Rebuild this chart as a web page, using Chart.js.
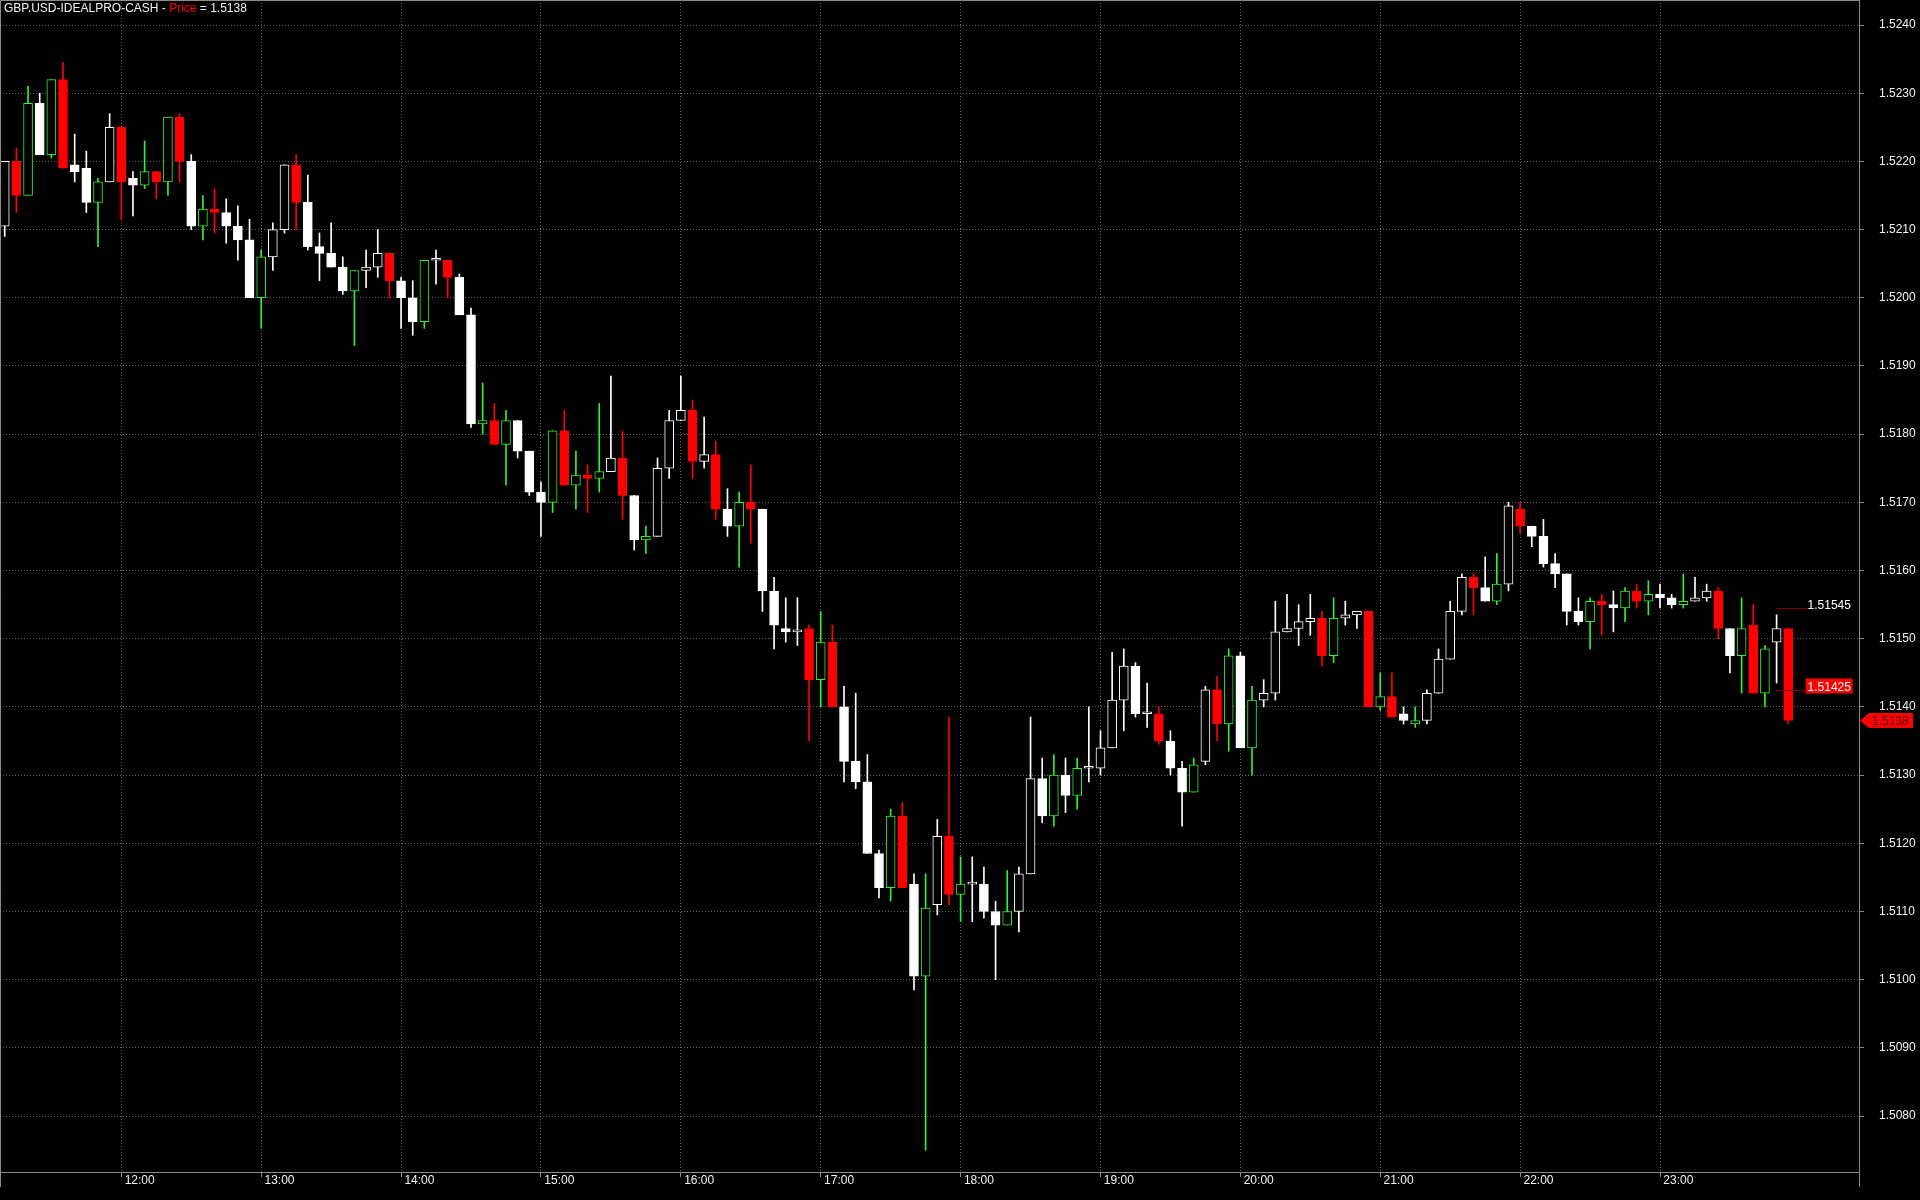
<!DOCTYPE html>
<html lang="en">
<head>
<meta charset="UTF-8">
<title>GBP.USD-IDEALPRO-CASH</title>
<script src="https://cdn.jsdelivr.net/npm/chart.js"></script>
<style>
  html, body { margin: 0; padding: 0; background: #000; overflow: hidden; }
  canvas { display: block; }
</style>
</head>
<body>
<canvas id="priceChart" width="1920" height="1200"></canvas>
<script>
// 5-minute bars, first bar 11:10, last bar 23:55
const symbol = 'GBP.USD-IDEALPRO-CASH';
const hourLabels = ['12:00', '13:00', '14:00', '15:00', '16:00', '17:00', '18:00', '19:00', '20:00', '21:00', '22:00', '23:00'];
const firstHourBar = 10;   // index of the 12:00 bar
const barsPerHour = 12;
const priceTicks = [1.5080, 1.5090, 1.5100, 1.5110, 1.5120, 1.5130, 1.5140, 1.5150, 1.5160,
                    1.5170, 1.5180, 1.5190, 1.5200, 1.5210, 1.5220, 1.5230, 1.5240];

const opens = [
  1.52105, 1.5220, 1.5215, 1.52285, 1.5221, 1.5232, 1.52195, 1.5219, 1.5214, 1.5217,
  1.5225, 1.52175, 1.52165, 1.52185, 1.5217, 1.52265, 1.5220, 1.52105, 1.5213, 1.52125,
  1.52105, 1.52085, 1.5200, 1.5206, 1.5210, 1.52195, 1.5214, 1.52075, 1.52065, 1.52045,
  1.5201, 1.5204, 1.52045, 1.52065, 1.52025, 1.5200, 1.51965, 1.52055, 1.52055, 1.5203,
  1.51975, 1.51815, 1.5182, 1.51785, 1.5182, 1.51775, 1.51715, 1.5170, 1.51805, 1.51725,
  1.5174, 1.51735, 1.51745, 1.51765, 1.5171, 1.51645, 1.5165, 1.5175, 1.5182, 1.51835,
  1.5176, 1.5177, 1.5169, 1.51665, 1.5170, 1.5169, 1.5157, 1.51515, 1.5151, 1.51515,
  1.5144, 1.51495, 1.5140, 1.5132, 1.5129, 1.51185, 1.51135, 1.5124, 1.5114, 1.51005,
  1.5111, 1.5121, 1.51125, 1.5114, 1.5114, 1.5110, 1.5108, 1.5110, 1.51155, 1.51295,
  1.5124, 1.5130, 1.5127, 1.5131, 1.5131, 1.5134, 1.5141, 1.5146, 1.5139, 1.5139,
  1.5135, 1.5131, 1.51275, 1.5132, 1.51425, 1.51375, 1.51475, 1.5134, 1.5141, 1.5142,
  1.5151, 1.51515, 1.51525, 1.5153, 1.51475, 1.5153, 1.51535, 1.5154, 1.5140, 1.51415,
  1.5139, 1.51375, 1.5138, 1.5142, 1.5147, 1.5154, 1.5159, 1.51575, 1.51555, 1.5158,
  1.5169, 1.51665, 1.5165, 1.5161, 1.51595, 1.5154, 1.51525, 1.51555, 1.5155, 1.51545,
  1.5157, 1.51555, 1.51565, 1.5156, 1.5155, 1.51555, 1.5156, 1.5157, 1.51515, 1.51475,
  1.5152, 1.5142, 1.51495, 1.51515
];
const highs = [
  1.5220, 1.5222, 1.5231, 1.5230, 1.5232, 1.52345, 1.5224, 1.52215, 1.52175, 1.5227,
  1.5225, 1.52185, 1.5223, 1.52185, 1.52265, 1.5227, 1.5221, 1.5215, 1.5216, 1.52145,
  1.52135, 1.52115, 1.5207, 1.5211, 1.52195, 1.5221, 1.5218, 1.52095, 1.5211, 1.5206,
  1.5204, 1.5207, 1.5210, 1.52065, 1.5203, 1.52025, 1.52055, 1.5207, 1.52055, 1.52035,
  1.51985, 1.51875, 1.51845, 1.51835, 1.5182, 1.51775, 1.5173, 1.51805, 1.51835, 1.51775,
  1.51755, 1.51845, 1.51885, 1.51805, 1.5171, 1.51665, 1.51765, 1.51835, 1.51885, 1.5185,
  1.51825, 1.5179, 1.5172, 1.51715, 1.51755, 1.5169, 1.5159, 1.5156, 1.5156, 1.5152,
  1.5154, 1.5152, 1.5143, 1.5142, 1.5133, 1.5119, 1.5125, 1.5126, 1.51155, 1.51155,
  1.51235, 1.51385, 1.5118, 1.5118, 1.51165, 1.51115, 1.5116, 1.51165, 1.51385, 1.51325,
  1.5133, 1.51325, 1.51325, 1.5140, 1.51365, 1.5148, 1.51485, 1.51465, 1.51435, 1.5140,
  1.51365, 1.5132, 1.51325, 1.5143, 1.51445, 1.51485, 1.5148, 1.5143, 1.5144, 1.51555,
  1.51565, 1.5155, 1.51565, 1.5154, 1.5156, 1.51555, 1.5154, 1.5154, 1.5145, 1.5145,
  1.5140, 1.5140, 1.51425, 1.51485, 1.51555, 1.51595, 1.51595, 1.5162, 1.51625, 1.5170,
  1.5170, 1.51665, 1.51675, 1.51625, 1.51595, 1.5156, 1.5156, 1.51565, 1.5157, 1.51575,
  1.5158, 1.51585, 1.5158, 1.51565, 1.51595, 1.5159, 1.5158, 1.51575, 1.51515, 1.5156,
  1.5155, 1.5149, 1.51535, 1.51515
];
const lows = [
  1.5209, 1.52125, 1.5215, 1.5221, 1.52205, 1.5219, 1.5217, 1.52125, 1.52075, 1.5217,
  1.52115, 1.5212, 1.5216, 1.52145, 1.5215, 1.5217, 1.5210, 1.52085, 1.52095, 1.5208,
  1.52055, 1.5200, 1.51955, 1.5204, 1.52095, 1.5210, 1.5207, 1.52025, 1.52045, 1.52005,
  1.5193, 1.52015, 1.5203, 1.5200, 1.51955, 1.51945, 1.51955, 1.5202, 1.5200, 1.51975,
  1.5181, 1.5180, 1.51785, 1.51725, 1.51765, 1.5171, 1.5165, 1.51685, 1.51725, 1.5169,
  1.51685, 1.51715, 1.51745, 1.51675, 1.5163, 1.51625, 1.5165, 1.51735, 1.5182, 1.51735,
  1.5175, 1.51675, 1.5165, 1.51605, 1.5164, 1.5154, 1.51485, 1.51495, 1.5149, 1.5135,
  1.5140, 1.5140, 1.5129, 1.5128, 1.51185, 1.5112, 1.51115, 1.51135, 1.50985, 1.5075,
  1.51095, 1.5111, 1.51085, 1.51085, 1.5109, 1.5100, 1.5108, 1.5107, 1.51155, 1.5123,
  1.51225, 1.51245, 1.5125, 1.5129, 1.5130, 1.5134, 1.51365, 1.51385, 1.5137, 1.51345,
  1.5130, 1.51225, 1.51275, 1.51315, 1.5135, 1.51335, 1.5134, 1.5130, 1.5140, 1.5141,
  1.5151, 1.5149, 1.51505, 1.5146, 1.51465, 1.5152, 1.51515, 1.5140, 1.51395, 1.51385,
  1.51375, 1.5137, 1.51375, 1.5142, 1.5147, 1.51535, 1.51535, 1.51555, 1.5155, 1.5157,
  1.51655, 1.51635, 1.51605, 1.51575, 1.5152, 1.5152, 1.51485, 1.51505, 1.5151, 1.51525,
  1.51545, 1.51535, 1.51545, 1.51545, 1.51545, 1.51555, 1.51555, 1.5150, 1.5145, 1.5142,
  1.5142, 1.5140, 1.51435, 1.51375
];
const closes = [
  1.5220, 1.5215, 1.52285, 1.5221, 1.5232, 1.5219, 1.52185, 1.5214, 1.5217, 1.5225,
  1.5217, 1.52165, 1.52185, 1.5217, 1.52265, 1.5220, 1.52105, 1.5213, 1.52125, 1.52105,
  1.52085, 1.5200, 1.5206, 1.5210, 1.52195, 1.5214, 1.52075, 1.52065, 1.52045, 1.5201,
  1.5204, 1.52045, 1.52065, 1.52025, 1.5200, 1.51965, 1.52055, 1.52055, 1.5203, 1.51975,
  1.51815, 1.5182, 1.51785, 1.5182, 1.51775, 1.51715, 1.5170, 1.51805, 1.51725, 1.5174,
  1.51735, 1.51745, 1.51765, 1.5171, 1.51645, 1.5165, 1.5175, 1.5182, 1.51835, 1.5176,
  1.5177, 1.5169, 1.51665, 1.5170, 1.5169, 1.5157, 1.5152, 1.5151, 1.5151, 1.5144,
  1.51495, 1.5140, 1.5132, 1.5129, 1.51185, 1.51135, 1.5124, 1.51135, 1.51005, 1.51105,
  1.5121, 1.51125, 1.5114, 1.5114, 1.5110, 1.5108, 1.5110, 1.51155, 1.51295, 1.5124,
  1.5130, 1.5127, 1.5131, 1.5131, 1.5134, 1.5141, 1.5146, 1.5139, 1.5139, 1.5135,
  1.5131, 1.51275, 1.51315, 1.51425, 1.51375, 1.51475, 1.5134, 1.5141, 1.5142, 1.5151,
  1.51515, 1.51525, 1.5153, 1.51475, 1.5153, 1.51535, 1.5154, 1.5140, 1.51415, 1.51385,
  1.5138, 1.5138, 1.5142, 1.5147, 1.5154, 1.5159, 1.51575, 1.51555, 1.5158, 1.51695,
  1.51665, 1.5165, 1.5161, 1.51595, 1.5154, 1.51525, 1.51555, 1.5155, 1.51545, 1.5157,
  1.51555, 1.51565, 1.5156, 1.5155, 1.51555, 1.5156, 1.5157, 1.51515, 1.51475, 1.51515,
  1.5142, 1.51485, 1.51515, 1.5138
];
// w = white hollow, W = white filled, g = green hollow, r = red filled
const styles = [
  'w', 'r', 'g', 'W', 'g', 'r', 'W', 'W', 'g', 'w',
  'r', 'W', 'g', 'r', 'g', 'r', 'W', 'g', 'r', 'W',
  'W', 'W', 'g', 'w', 'w', 'r', 'W', 'W', 'W', 'W',
  'g', 'w', 'w', 'r', 'W', 'W', 'g', 'w', 'r', 'W',
  'W', 'g', 'r', 'g', 'W', 'W', 'W', 'g', 'r', 'g',
  'r', 'g', 'w', 'r', 'W', 'g', 'w', 'w', 'w', 'r',
  'w', 'r', 'W', 'g', 'r', 'W', 'W', 'W', 'w', 'r',
  'g', 'r', 'W', 'W', 'W', 'W', 'g', 'r', 'W', 'g',
  'w', 'r', 'g', 'w', 'W', 'W', 'g', 'w', 'w', 'W',
  'g', 'W', 'g', 'w', 'w', 'w', 'w', 'W', 'w', 'r',
  'W', 'W', 'g', 'w', 'r', 'g', 'W', 'g', 'w', 'w',
  'w', 'w', 'w', 'r', 'g', 'w', 'w', 'r', 'g', 'r',
  'W', 'g', 'w', 'w', 'w', 'w', 'r', 'W', 'g', 'w',
  'r', 'W', 'W', 'W', 'W', 'W', 'g', 'r', 'W', 'g',
  'r', 'g', 'W', 'W', 'g', 'w', 'w', 'r', 'W', 'g',
  'r', 'g', 'w', 'r'
];

// levels drawn at the right edge, starting from this bar
const markerLevels = [1.51545, 1.51425];
const markerFromBar = 152;

const palette = {
  w: { fill: '#000000', line: '#ffffff' },
  W: { fill: '#ffffff', line: '#ffffff' },
  g: { fill: '#000000', line: '#33ee33' },
  r: { fill: '#ff0000', line: '#ff0000' }
};
const frameColor = '#8c8c8c';
const gridColor = '#606060';
const textColor = '#f2f2f2';
const fontFamily = '"Liberation Sans", Arial, sans-serif';
const lastClose = closes[closes.length - 1];

const bodies = opens.map((o, i) => ({ x: i, y: [o, closes[i]] }));
const wicks = lows.map((l, i) => ({ x: i, y: [l, highs[i]] }));

const fixBox = (w, h) => (scale) => {
  if (w) scale.width = w;
  if (h) scale.height = h;
  scale.paddingTop = scale.paddingBottom = scale.paddingLeft = scale.paddingRight = 0;
};

// frame, title, level markers and last price tag
const overlayPlugin = {
  id: 'overlay',
  afterDraw(chart) {
    const ctx = chart.ctx;
    const area = chart.chartArea;
    const xs = chart.scales.x;
    const ys = chart.scales.y;
    ctx.save();

    ctx.strokeStyle = frameColor;
    ctx.lineWidth = 1;
    ctx.beginPath();
    ctx.moveTo(0.5, area.bottom + 15);
    ctx.lineTo(0.5, 0.5);
    ctx.lineTo(area.right, 0.5);
    ctx.moveTo(area.right + 0.5, area.bottom);
    ctx.lineTo(area.right + 0.5, area.bottom + 15);
    ctx.stroke();

    ctx.font = '12px ' + fontFamily;
    ctx.textBaseline = 'alphabetic';
    let tx = 4;
    [[symbol + ' - ', textColor], ['Price', '#ff0000'], [' = ' + lastClose.toFixed(4), textColor]].forEach(([t, c]) => {
      ctx.fillStyle = c;
      ctx.fillText(t, tx, 12);
      tx += ctx.measureText(t).width;
    });

    const x0 = xs.getPixelForValue(markerFromBar);
    markerLevels.forEach((lvl, k) => {
      const y = Math.round(ys.getPixelForValue(lvl)) + 0.5;
      const label = lvl.toFixed(5);
      ctx.strokeStyle = '#800000';
      ctx.beginPath();
      ctx.moveTo(x0, y);
      ctx.lineTo(x0 + (k === 1 ? 29 : 34), y);
      ctx.stroke();
      if (k === 1) {
        ctx.fillStyle = '#ff0000';
        ctx.fillRect(x0 + 29, y - 12, 47, 15);
      }
      ctx.fillStyle = '#ffffff';
      ctx.fillText(label, x0 + 31, y);
    });

    const yc = ys.getPixelForValue(lastClose);
    const left = area.right + 1;
    ctx.fillStyle = '#ff0000';
    ctx.beginPath();
    ctx.moveTo(left, yc);
    ctx.lineTo(left + 9, yc - 7.5);
    ctx.lineTo(left + 53, yc - 7.5);
    ctx.lineTo(left + 53, yc + 7.5);
    ctx.lineTo(left + 9, yc + 7.5);
    ctx.closePath();
    ctx.fill();
    ctx.fillStyle = '#5a0000';
    ctx.textBaseline = 'middle';
    ctx.fillText(lastClose.toFixed(4), left + 12, yc + 1);
    ctx.restore();
  }
};

const ctx = document.getElementById('priceChart').getContext('2d');
const priceChart = new Chart(ctx, {
  type: 'bar',
  data: {
    datasets: [
      {
        label: 'Body',
        data: bodies,
        backgroundColor: styles.map(s => palette[s].fill),
        borderColor: styles.map(s => palette[s].line),
        borderWidth: 1,
        borderSkipped: false,
        barThickness: 9,
        minBarLength: 2,
        grouped: false
      },
      {
        label: 'Wick',
        data: wicks,
        backgroundColor: styles.map(s => palette[s].line),
        borderWidth: 0,
        barThickness: 1,
        grouped: false
      }
    ]
  },
  options: {
    responsive: false,
    animation: false,
    devicePixelRatio: 1,
    events: [],
    layout: { padding: 0 },
    plugins: {
      legend: { display: false },
      tooltip: { enabled: false },
      title: { display: false }
    },
    scales: {
      x: {
        type: 'linear',
        min: -0.406,
        max: 159.07,
        offset: false,
        grid: { offset: false, color: gridColor, lineWidth: 1, tickLength: 5, tickColor: frameColor },
        border: { display: true, color: frameColor, width: 1, dash: [1, 2] },
        ticks: {
          autoSkip: false,
          maxRotation: 0,
          minRotation: 0,
          align: 'start',
          padding: -4,
          color: textColor,
          font: { family: fontFamily, size: 12 },
          callback: (v, i) => ' ' + hourLabels[i]
        },
        afterBuildTicks: (scale) => {
          scale.ticks = hourLabels.map((_, k) => ({ value: firstHourBar + k * barsPerHour }));
        },
        afterFit: fixBox(0, 28)
      },
      y: {
        position: 'right',
        min: 1.507179,
        max: 1.524367,
        grid: { color: gridColor, lineWidth: 1, tickLength: 5, tickColor: frameColor },
        border: { display: true, color: frameColor, width: 1, dash: [1, 2] },
        ticks: {
          padding: 15,
          color: textColor,
          font: { family: fontFamily, size: 12 },
          callback: (v) => v.toFixed(4)
        },
        afterBuildTicks: (scale) => {
          scale.ticks = priceTicks.map(v => ({ value: v }));
        },
        afterFit: fixBox(61, 0)
      }
    }
  },
  plugins: [overlayPlugin]
});
</script>
</body>
</html>
